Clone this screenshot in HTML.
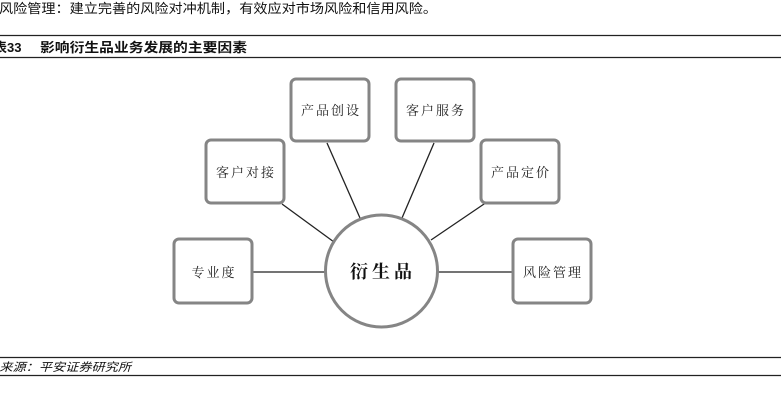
<!DOCTYPE html>
<html><head><meta charset="utf-8"><style>
html,body{margin:0;padding:0;background:#fff;}
body{width:781px;height:403px;overflow:hidden;position:relative;}
svg{position:absolute;left:0;top:0;}
</style></head><body>
<svg width="781" height="403" xmlns="http://www.w3.org/2000/svg">
<text x="-1" y="13" font-family="Liberation Sans, Noto Sans CJK SC, sans-serif" font-size="13.3" fill="#111" textLength="438" lengthAdjust="spacingAndGlyphs">风险管理：建立完善的风险对冲机制，有效应对市场风险和信用风险。</text>
<line x1="0" y1="35.5" x2="781" y2="35.5" stroke="#222" stroke-width="1.3"/>
<text x="-6" y="52" font-family="Liberation Sans, Noto Sans CJK SC, sans-serif" font-size="13" font-weight="bold" fill="#111">表33</text>
<text x="40" y="52" font-family="Liberation Sans, Noto Sans CJK SC, sans-serif" font-size="13" font-weight="bold" fill="#111" textLength="207" lengthAdjust="spacingAndGlyphs">影响衍生品业务发展的主要因素</text>
<line x1="0" y1="57.5" x2="781" y2="57.5" stroke="#222" stroke-width="1.3"/>
<g stroke="#222" stroke-width="1.3">
<line x1="327" y1="143" x2="360" y2="218"/>
<line x1="434" y1="143" x2="402" y2="218"/>
<line x1="282" y1="204" x2="334" y2="242"/>
<line x1="487" y1="202" x2="431" y2="240"/>
<line x1="252" y1="272" x2="326" y2="272"/>
<line x1="438" y1="272" x2="513" y2="272"/>
</g>
<g fill="#fff" stroke="#858585" stroke-width="3">
<rect x="291" y="79" width="78" height="62" rx="5"/>
<rect x="396" y="79" width="78" height="62" rx="5"/>
<rect x="206" y="140" width="78" height="63" rx="5"/>
<rect x="481" y="140" width="78" height="63" rx="5"/>
<rect x="174" y="239" width="78" height="64" rx="5"/>
<rect x="513" y="239" width="78" height="64" rx="5"/>
<circle cx="381.5" cy="271" r="56"/>
</g>
<g font-family="Noto Serif CJK SC, serif" font-size="13" fill="#222" text-anchor="middle" letter-spacing="2">
<text x="331" y="115">产品创设</text>
<text x="436" y="115">客户服务</text>
<text x="246" y="177">客户对接</text>
<text x="521" y="177">产品定价</text>
<text x="214" y="277">专业度</text>
<text x="553" y="277">风险管理</text>
</g>
<text x="383" y="278" font-family="Noto Serif CJK SC, serif" font-size="18" font-weight="bold" fill="#111" text-anchor="middle" letter-spacing="4">衍生品</text>
<line x1="0" y1="357.5" x2="781" y2="357.5" stroke="#222" stroke-width="1.3"/>
<text x="-27" y="371" font-family="Liberation Sans, Noto Sans CJK SC, sans-serif" font-size="11.5" font-style="italic" fill="#111" textLength="158" lengthAdjust="spacingAndGlyphs">资料来源：平安证券研究所</text>
<line x1="0" y1="375.5" x2="781" y2="375.5" stroke="#222" stroke-width="1.3"/>
</svg>
</body></html>
